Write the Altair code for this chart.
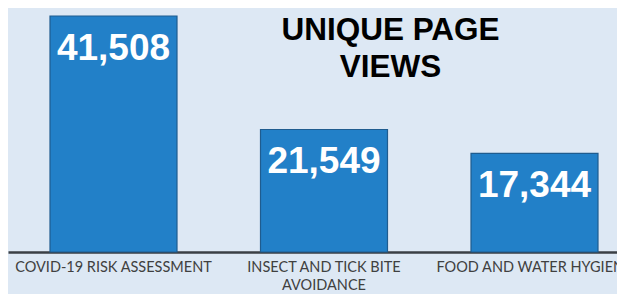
import altair as alt
import pandas as pd

categories = ["COVID-19 RISK ASSESSMENT", "INSECT AND TICK BITE AVOIDANCE", "FOOD AND WATER HYGIENE"]
views = [41508, 21549, 17344]
title_lines = ["UNIQUE PAGE", "VIEWS"]

BG = "#dde8f4"

df = pd.DataFrame({"category": categories, "views": views})

x = alt.X(
    "category:N",
    sort=categories,
    title=None,
    scale=alt.Scale(paddingInner=0.3967, paddingOuter=0.1449, align=0.6885),
    axis=alt.Axis(
        labelAngle=0,
        ticks=False,
        labelFont="Lato",
        labelFontSize=14.5,
        labelColor="#404040",
        labelPadding=8.5,
        labelLineHeight=17.5,
        labelLimit=0,
        labelOverlap=False,
        labelBound=False,
        labelFlush=False,
        domainColor="#3a3f45",
        domainWidth=2.5,
        labelExpr="datum.label == 'INSECT AND TICK BITE AVOIDANCE' ? ['INSECT AND TICK BITE', 'AVOIDANCE'] : datum.label",
    ),
)
y = alt.Y("views:Q", axis=None, scale=alt.Scale(domain=[0, 42915], nice=False, zero=True))

base = alt.Chart(df)

bars = base.mark_bar(color="#2280c8", stroke="#1f5c8f", strokeWidth=1.2).encode(x=x, y=y)

labels = base.mark_text(
    color="white", font="Liberation Sans", fontWeight="bold", fontSize=37,
    baseline="middle", dy=33,
).encode(x=x, y=y, text=alt.Text("views:Q", format=",d"))

title = alt.Chart(pd.DataFrame({"t": [0]})).mark_text(
    text=title_lines, font="Liberation Sans", fontWeight="bold", fontSize=31.5,
    color="black", baseline="top", align="center", lineHeight=37.4,
).encode(x=alt.value(382.5), y=alt.value(6.5))

chart = (
    alt.layer(bars, labels, title)
    .properties(
        width=609, height=244,
        autosize=alt.AutoSizeParams(type="none"),
        padding={"left": 0, "top": 0, "right": 0, "bottom": 42},
        background=BG,
    )
    .configure_view(stroke=None)
)

chart.save("out.html", embed_options={"renderer": "svg", "actions": False})
